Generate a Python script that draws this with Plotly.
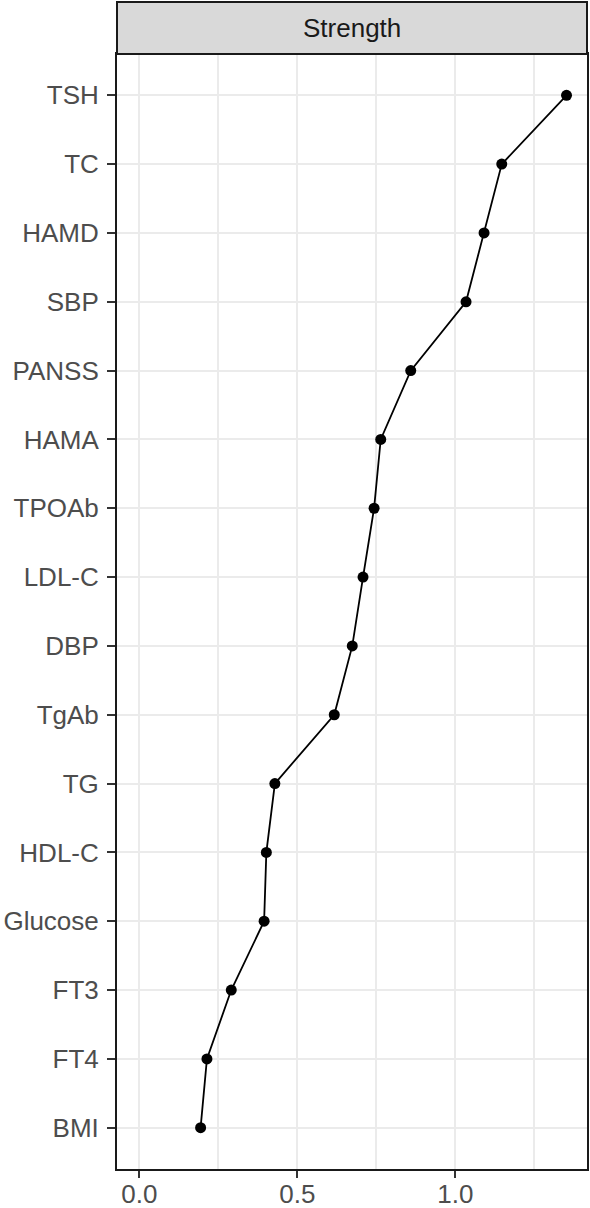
import plotly.graph_objects as go

# values, bottom to top
items = ["BMI", "FT4", "FT3", "Glucose", "HDL-C", "TG", "TgAb", "DBP",
         "LDL-C", "TPOAb", "HAMA", "PANSS", "SBP", "HAMD", "TC", "TSH"]
strength = [0.194, 0.214, 0.291, 0.395, 0.402, 0.429, 0.617, 0.674,
            0.708, 0.743, 0.764, 0.859, 1.034, 1.091, 1.147, 1.352]
x_ticks = [0.0, 0.5, 1.0]
x_ticktext = ["0.0", "0.5", "1.0"]
panel_title = "Strength"

W, H = 590, 1208
ml, mr, mt, mb = 117, 3, 54, 39
plot_h = H - mt - mb
strip_h = 52

fig = go.Figure()
fig.add_trace(go.Scatter(
    x=strength, y=items, mode="lines+markers",
    line=dict(color="black", width=1.8),
    marker=dict(color="black", size=11),
    showlegend=False,
))

font = "Arial, Liberation Sans, sans-serif"

fig.update_layout(
    width=W, height=H,
    margin=dict(l=ml, r=mr, t=mt, b=mb, pad=0),
    paper_bgcolor="white", plot_bgcolor="white",
    font=dict(family=font, size=26, color="#4D4D4D"),
)

fig.update_xaxes(
    range=[-0.0706, 1.4168], automargin=False,
    tickvals=x_ticks, ticktext=x_ticktext,
    showgrid=True, gridcolor="#EBEBEB", gridwidth=2,
    minor=dict(dtick=0.25, tick0=0, showgrid=True, gridcolor="#EBEBEB", gridwidth=1.5),
    ticks="outside", ticklen=7, tickwidth=2, tickcolor="#333333",
    ticklabelstandoff=-6,
    showline=True, linecolor="#1A1A1A", linewidth=2, mirror=True,
    zeroline=False,
    tickfont=dict(size=26, color="#4D4D4D"),
)
fig.update_yaxes(
    type="category", categoryorder="array", categoryarray=items,
    range=[-0.6, len(items) - 0.4], automargin=False,
    showgrid=True, gridcolor="#EBEBEB", gridwidth=2,
    ticks="outside", ticklen=8, tickwidth=2, tickcolor="#333333",
    ticklabelstandoff=3,
    showline=True, linecolor="#1A1A1A", linewidth=2, mirror=True,
    zeroline=False,
    tickfont=dict(size=26, color="#4D4D4D"),
)

# facet strip on top of the panel
strip_top = 1 + strip_h / plot_h
fig.add_shape(type="rect", xref="paper", yref="paper",
              x0=0, x1=1, y0=1, y1=strip_top,
              fillcolor="#D9D9D9", line=dict(color="#1A1A1A", width=2),
              layer="above")
fig.add_annotation(xref="paper", yref="paper", x=0.5, y=(1 + strip_top) / 2,
                   text=panel_title, showarrow=False,
                   xanchor="center", yanchor="middle",
                   font=dict(family=font, size=26, color="#1A1A1A"))

# the page body has a default 8px margin, drop it so the figure fills the window
fig.write_html("out.html", config={"displayModeBar": False},
               post_script="document.body.style.margin='0';document.body.style.overflow='hidden';")
